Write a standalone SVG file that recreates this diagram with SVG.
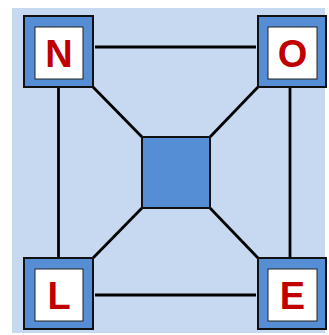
<svg xmlns="http://www.w3.org/2000/svg" width="329" height="335" viewBox="0 0 329 335">
<style>
.outer{fill:#558ED5;stroke:#111;stroke-width:2}
.inner{fill:#fff;stroke:#222;stroke-width:1}
.lbl{font-family:"Liberation Sans",Arial,sans-serif;font-weight:bold;font-size:38px;fill:#C00000;text-anchor:middle}
.conn{stroke:#000;stroke-width:2.8;fill:none}
</style>
<rect x="0" y="0" width="329" height="335" fill="#fff"/>
<rect x="12" y="8" width="313" height="325" fill="#C6D9F0"/>
<g id="connectors">
<line class="conn" x1="95" y1="47" x2="256" y2="47"/>
<line class="conn" x1="95" y1="295" x2="256" y2="295"/>
<line class="conn" x1="58.5" y1="88" x2="58.5" y2="257"/>
<line class="conn" x1="290" y1="88" x2="290" y2="257"/>
<line class="conn" x1="93" y1="87" x2="142" y2="137"/>
<line class="conn" x1="258" y1="87" x2="210" y2="137"/>
<line class="conn" x1="93" y1="258" x2="142" y2="208"/>
<line class="conn" x1="258" y1="258" x2="210" y2="208"/>
</g>
<g id="center"><rect class="outer" x="142" y="137" width="68" height="71"/></g>
<g id="N"><rect class="outer" x="24" y="16" width="69" height="71"/><rect class="inner" x="35" y="27" width="48" height="52"/><text class="lbl" x="59" y="67">N</text></g>
<g id="O"><rect class="outer" x="258" y="16" width="68" height="71"/><rect class="inner" x="268" y="27" width="49" height="52"/><text class="lbl" x="292.5" y="67">O</text></g>
<g id="L"><rect class="outer" x="24" y="258" width="69" height="71"/><rect class="inner" x="35" y="269" width="48" height="52"/><text class="lbl" x="59" y="309">L</text></g>
<g id="E"><rect class="outer" x="258" y="258" width="68" height="71"/><rect class="inner" x="268" y="269" width="49" height="52"/><text class="lbl" x="292.5" y="309">E</text></g>
</svg>
